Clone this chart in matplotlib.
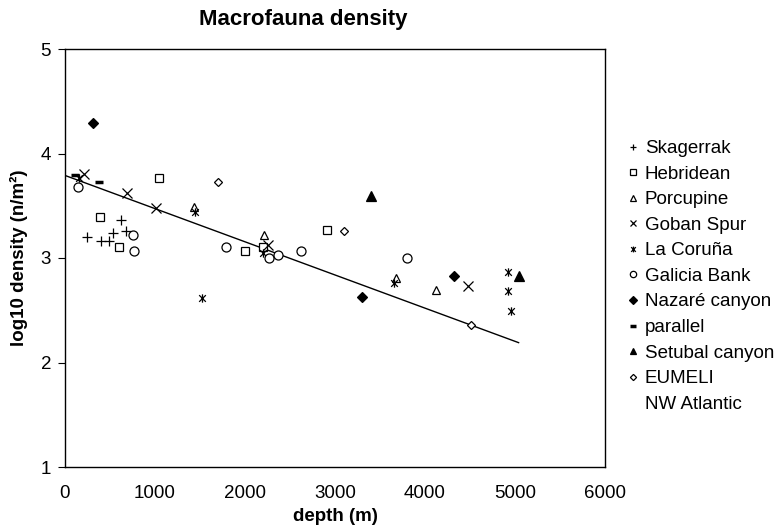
import matplotlib.pyplot as plt
import numpy as np
from matplotlib.path import Path
from matplotlib.lines import Line2D

plt.rcParams['font.family'] = ['Liberation Sans', 'DejaVu Sans']

# depth (m), log10 density (n/m2) per area
skag_d = [241, 397, 492, 530, 622, 674]
skag_v = [3.20, 3.16, 3.16, 3.24, 3.36, 3.26]
hebr_d = [392, 597, 1048, 2003, 2197, 2908]
hebr_v = [3.39, 3.11, 3.77, 3.07, 3.11, 3.27]
porc_d = [1437, 2208, 3674, 4119]
porc_v = [3.49, 3.22, 2.81, 2.69]
goban_d = [211, 686, 1008, 2259, 4474]
goban_v = [3.80, 3.62, 3.48, 3.12, 2.73]
coruna_d = [160, 1448, 1519, 2197, 3656, 4919, 4919, 4956]
coruna_v = [3.77, 3.44, 2.62, 3.05, 2.76, 2.87, 2.68, 2.49]
galicia_d = [148, 759, 770, 1789, 2270, 2370, 2626, 3797]
galicia_v = [3.68, 3.22, 3.07, 3.11, 3.00, 3.03, 3.07, 3.00]
nazare_d = [314, 3297, 4326]
nazare_v = [4.29, 2.63, 2.83]
parallel_d = [111, 381]
parallel_v = [3.795, 3.73]
setubal_d = [3397, 5044]
setubal_v = [3.59, 2.83]
eumeli_d = [1697, 3100, 4508]
eumeli_v = [3.73, 3.26, 2.36]

fit_d = [0, 5040]
fit_v = [3.79, 2.19]

# Excel-style star: x with a vertical bar
star = Path([(-1, -1), (1, 1), (-1, 1), (1, -1), (0, -1.25), (0, 1.25)],
            [Path.MOVETO, Path.LINETO, Path.MOVETO, Path.LINETO, Path.MOVETO, Path.LINETO])

fig = plt.figure(figsize=(7.76, 5.28), dpi=100)
ax = fig.add_axes([65 / 776, 1 - 467 / 528, 540 / 776, 418 / 528])

ax.plot(fit_d, fit_v, color='black', linewidth=1)

k = dict(color='black', linestyle='none', markeredgewidth=0.9)
series = [
    (skag_d, skag_v, dict(marker='+', markersize=7), 'Skagerrak'),
    (hebr_d, hebr_v, dict(marker='s', markersize=6, markerfacecolor='white'), 'Hebridean'),
    (porc_d, porc_v, dict(marker='^', markersize=6, markerfacecolor='white'), 'Porcupine'),
    (goban_d, goban_v, dict(marker='x', markersize=6.5), 'Goban Spur'),
    (coruna_d, coruna_v, dict(marker=star, markersize=6, markerfacecolor='none'), 'La Coruña'),
    (galicia_d, galicia_v, dict(marker='o', markersize=6.5, markerfacecolor='white'), 'Galicia Bank'),
    (nazare_d, nazare_v, dict(marker='D', markersize=5.5, markerfacecolor='black'), 'Nazaré canyon'),
    (parallel_d, parallel_v, dict(marker='_', markersize=6, markeredgewidth=2.5), 'parallel'),
    (setubal_d, setubal_v, dict(marker='^', markersize=7, markerfacecolor='black'), 'Setubal canyon'),
    (eumeli_d, eumeli_v, dict(marker='D', markersize=4.5, markerfacecolor='white'), 'EUMELI'),
]

handles = []
for d, v, st, name in series:
    opts = dict(k)
    opts.update(st)
    ax.plot(d, v, **opts)
    lg = dict(opts)
    lg['markersize'] = opts['markersize'] * 0.7
    handles.append(Line2D([], [], label=name, **lg))
handles.append(Line2D([], [], linestyle='none', marker='none', label='NW Atlantic'))

ax.set_xlim(0, 6000)
ax.set_ylim(1, 5)
ax.set_xticks(np.arange(0, 6001, 1000))
ax.set_yticks([1, 2, 3, 4, 5])
ax.tick_params(axis='y', direction='out', length=5, width=0.8, labelsize=13.5, pad=5)
ax.tick_params(axis='x', length=0, labelsize=13.5, pad=13)
for s in ax.spines.values():
    s.set_linewidth(1)

ax.set_xlabel('depth (m)', fontsize=13.5, fontweight='bold', labelpad=4)
ax.set_ylabel('log10 density (n/m²)', fontsize=13.5, fontweight='bold', labelpad=9)
fig.text(199 / 776, 1 - 20 / 528, 'Macrofauna density', fontsize=16, fontweight='bold',
         ha='left', va='center')

fig.legend(handles=handles, loc='upper left', bbox_to_anchor=(627 / 776, 1 - 140 / 528),
           frameon=False, fontsize=13.5, handlelength=0.6, handletextpad=0.35,
           labelspacing=0.45, borderpad=0, borderaxespad=0)

fig.savefig('out.png', dpi=100)
